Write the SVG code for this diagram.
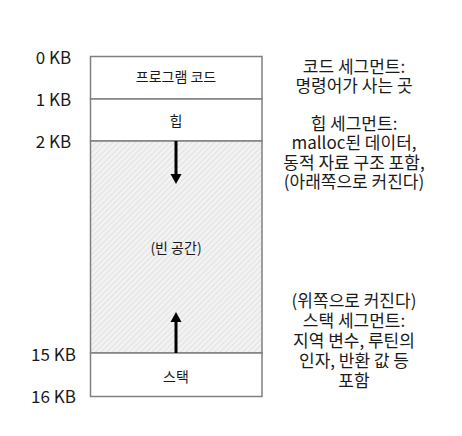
<svg xmlns="http://www.w3.org/2000/svg" width="462" height="436" viewBox="0 0 462 436">
<style>
text{font-family:"Noto Sans CJK KR","Noto Sans",sans-serif;fill:#1a1a1a;text-anchor:middle}
.kb{font-size:17px}
.seg{font-size:14px}
.note{font-size:17px}
.box{fill:#fff;stroke:#808080;stroke-width:1.5}
.div{stroke:#707070;stroke-width:1.5}
.arr{stroke:#000;stroke-width:3}
</style>
<defs>
<pattern id="hatch" width="4" height="4" patternUnits="userSpaceOnUse" patternTransform="rotate(45)">
<rect width="4" height="4" fill="#f2f2f2"/>
<line x1="0" y1="0" x2="0" y2="4" stroke="#d6d6d6" stroke-width="1.2"/>
</pattern>
</defs>
<rect width="462" height="436" fill="#fff"/>
<g id="labels">
<text class="kb" x="53.5" y="64">0 KB</text>
<text class="kb" x="53.5" y="106">1 KB</text>
<text class="kb" x="53.5" y="148">2 KB</text>
<text class="kb" x="53.5" y="361">15 KB</text>
<text class="kb" x="53.5" y="403">16 KB</text>
</g>
<g id="code">
<rect class="box" x="90.5" y="56.5" width="171.5" height="42.5"/>
<text class="seg" x="176" y="82">프로그램 코드</text>
</g>
<g id="heap">
<rect class="box" x="90.5" y="99" width="171.5" height="42"/>
<text class="seg" x="176" y="126">힙</text>
</g>
<g id="free">
<rect x="90.5" y="141" width="171.5" height="212" fill="url(#hatch)" stroke="#808080" stroke-width="1.5"/>
<text class="seg" x="176" y="253">(빈 공간)</text>
</g>
<g id="stack">
<rect class="box" x="90.5" y="353" width="171.5" height="43.5"/>
<text class="seg" x="176" y="382">스택</text>
</g>
<g id="connectors">
<line class="arr" x1="176" y1="141" x2="176" y2="175"/>
<polygon points="170.5,174 181.5,174 176,184" fill="#000"/>
<line class="arr" x1="176" y1="353" x2="176" y2="321"/>
<polygon points="170.5,322 181.5,322 176,312" fill="#000"/>
</g>
<g id="notes">
<text class="note" x="354" y="73">코드 세그먼트:</text>
<text class="note" x="354" y="92">명령어가 사는 곳</text>
<text class="note" x="354" y="130">힙 세그먼트:</text>
<text class="note" x="354" y="149">malloc된 데이터,</text>
<text class="note" x="354" y="168.5">동적 자료 구조 포함,</text>
<text class="note" x="354" y="188">(아래쪽으로 커진다)</text>
<text class="note" x="354" y="307">(위쪽으로 커진다)</text>
<text class="note" x="354" y="327">스택 세그먼트:</text>
<text class="note" x="354" y="347">지역 변수, 루틴의</text>
<text class="note" x="354" y="367">인자, 반환 값 등</text>
<text class="note" x="354" y="387">포함</text>
</g>
</svg>
